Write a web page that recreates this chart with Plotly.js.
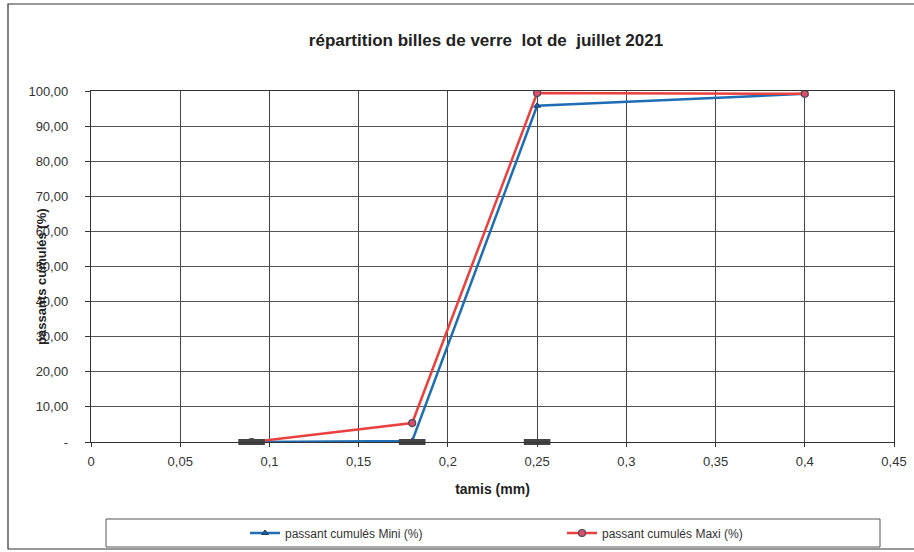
<!DOCTYPE html>
<html>
<head>
<meta charset="utf-8">
<script src="https://cdn.plot.ly/plotly-3.0.1.min.js"></script>
<style>html,body{margin:0;padding:0;background:#fff;}#chart{width:914px;height:552px;}</style>
</head>
<body>
<div id="chart"></div>
<script>
// Data
const tamis = [0.09, 0.18, 0.25, 0.4];
const miniPct = [0, 0.3, 95.8, 99.2];
const maxiPct = [0, 5.4, 99.4, 99.2];
const specX = [0.09, 0.18, 0.25];
const specY = [0, 0, 0];

const xTickVals = [0, 0.05, 0.1, 0.15, 0.2, 0.25, 0.3, 0.35, 0.4, 0.45];
const xTickText = ["0", "0,05", "0,1", "0,15", "0,2", "0,25", "0,3", "0,35", "0,4", "0,45"];
const yTickVals = [0, 10, 20, 30, 40, 50, 60, 70, 80, 90, 100];
const yTickText = ["-", "10,00", "20,00", "30,00", "40,00", "50,00", "60,00", "70,00", "80,00", "90,00", "100,00"];

const FONT = "Arial, 'Liberation Sans', sans-serif";

const traces = [
  {
    x: tamis, y: miniPct, name: "passant cumulés Mini (%)", type: "scatter", mode: "lines+markers",
    legend: "legend",
    line: {color: "#1f6db3", width: 2.5},
    marker: {symbol: "triangle-up", size: 6, color: "#1f5fa0", line: {color: "#1c3f6e", width: 1}}
  },
  {
    x: tamis, y: maxiPct, name: "passant cumulés Maxi (%)", type: "scatter", mode: "lines+markers",
    legend: "legend2",
    line: {color: "#e8413f", width: 2.5},
    marker: {symbol: "circle", size: 7, color: "#d9506a", line: {color: "#4a4a5a", width: 1.2}}
  },
  {
    x: specX, y: specY, type: "scatter", mode: "markers", showlegend: false, hoverinfo: "skip",
    cliponaxis: false,
    marker: {symbol: "line-ew-open", size: 19, color: "#444", line: {color: "#444", width: 6}}
  }
];

const L = 91, R = 894, T = 91, B = 442, W = 914, H = 552;
const pw = R - L, ph = B - T;
const px = v => (v - L) / pw;
const py = v => (B - v) / ph;

const legendBase = {
  orientation: "h", xanchor: "left", y: py(533), yanchor: "middle",
  font: {family: FONT, size: 12, color: "#333"},
  bgcolor: "rgba(0,0,0,0)", borderwidth: 0
};

const layout = {
  width: W, height: H,
  margin: {l: L, r: W - R, t: T, b: H - B, pad: 0, autoexpand: false},
  paper_bgcolor: "#fff", plot_bgcolor: "#fff",
  font: {family: FONT, size: 13, color: "#222"},
  title: {
    text: "<b>répartition billes de verre  lot de  juillet 2021</b>",
    font: {family: FONT, size: 17, color: "#222"},
    x: 486 / W, xanchor: "center", y: 1 - 40 / H, yanchor: "middle", xref: "container", yref: "container"
  },
  xaxis: {
    range: [0, 0.45], tickvals: xTickVals, ticktext: xTickText,
    showgrid: true, gridcolor: "#444", gridwidth: 1,
    showline: true, linecolor: "#333", linewidth: 1.2, mirror: true,
    ticks: "outside", ticklen: 4, tickcolor: "#333", ticklabelstandoff: 3,
    zeroline: false, tickfont: {size: 13, color: "#333"},
    automargin: false,
    title: {text: "<b>tamis (mm)</b>", font: {size: 14, color: "#222"}, standoff: 16}
  },
  yaxis: {
    range: [0, 100], tickvals: yTickVals, ticktext: yTickText,
    showgrid: true, gridcolor: "#555", gridwidth: 1,
    showline: true, linecolor: "#333", linewidth: 1.2, mirror: true,
    ticks: "outside", ticklen: 5, tickcolor: "#333", ticklabelstandoff: 14,
    zeroline: false, tickfont: {size: 13, color: "#333"},
    automargin: false
  },
  showlegend: true,
  legend: Object.assign({}, legendBase, {x: px(245)}),
  legend2: Object.assign({}, legendBase, {x: px(562)}),
  annotations: [
    {
      text: "<b>passants cumulés (%)</b>", textangle: -90, showarrow: false,
      xref: "paper", yref: "paper", x: px(41), y: py(277), xanchor: "center", yanchor: "middle",
      font: {family: FONT, size: 13, color: "#222"}
    }
  ],
  shapes: [
    {type: "rect", xref: "paper", yref: "paper", x0: px(8), x1: px(930), y0: py(549), y1: py(4),
     line: {color: "#333", width: 1.2}, fillcolor: "rgba(0,0,0,0)", layer: "below"},
    {type: "rect", xref: "paper", yref: "paper", x0: px(106), x1: px(880), y0: py(547), y1: py(519),
     line: {color: "#555", width: 1}, fillcolor: "rgba(0,0,0,0)", layer: "below"}
  ]
};

Plotly.newPlot("chart", traces, layout, {staticPlot: true, displayModeBar: false});
</script>
</body>
</html>
